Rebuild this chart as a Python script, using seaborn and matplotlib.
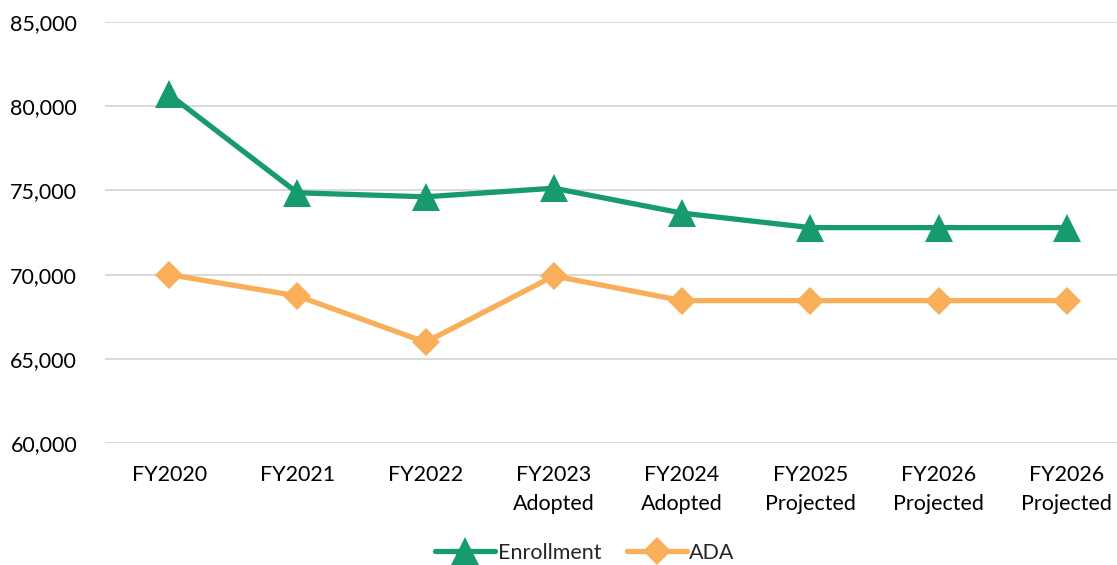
import seaborn as sns
import pandas as pd
import matplotlib.pyplot as plt
from matplotlib.ticker import FuncFormatter

# data
years = ["FY2020", "FY2021", "FY2022", "FY2023\nAdopted", "FY2024\nAdopted",
         "FY2025\nProjected", "FY2026\nProjected", "FY2026\nProjected"]
enrollment = [80700, 74860, 74620, 75130, 73650, 72790, 72790, 72790]
ada = [70000, 68735, 65985, 69920, 68455, 68455, 68455, 68455]

sns.set_style("white")
plt.rcParams['font.family'] = ['Lato', 'DejaVu Sans']

pos = list(range(len(years)))
df = pd.DataFrame({
    "pos": pos * 2,
    "value": enrollment + ada,
    "series": ["Enrollment"] * len(pos) + ["ADA"] * len(pos),
})

fig = plt.figure(figsize=(11.17, 5.65), dpi=100)
ax = fig.add_axes([105 / 1117, 1 - 443 / 565, 1026 / 1117, 421 / 565])

colors = {"Enrollment": "#179A6E", "ADA": "#F9AE5A"}
markers = {"Enrollment": "^", "ADA": "D"}
sns.lineplot(data=df, x="pos", y="value", hue="series", style="series",
             palette=colors, markers=markers, dashes=False, linewidth=3.8,
             markersize=20, markeredgewidth=0, ax=ax, legend=False)

# diamonds look bigger than triangles at the same size
for line in ax.lines:
    if line.get_marker() == "D":
        line.set_markersize(14)

ax.set_xlim(-0.5, len(years) - 0.5)
ax.set_ylim(60000, 85000)
ax.set_yticks(range(60000, 85001, 5000))
ax.yaxis.set_major_formatter(FuncFormatter(lambda v, p: f"{int(v):,}"))
ax.set_xticks(pos)
ax.set_xticklabels(years, linespacing=1.55)
ax.tick_params(axis="both", length=0, labelsize=15.5, colors="#000000")
ax.tick_params(axis="y", pad=20)
ax.tick_params(axis="x", pad=16)
ax.grid(axis="y", color="#D9D9D9", linewidth=1.4)
ax.set_axisbelow(True)
for s in ax.spines.values():
    s.set_visible(False)
ax.set_xlabel("")
ax.set_ylabel("")

handles = [
    plt.Line2D([], [], color=colors["Enrollment"], marker="^", markersize=20,
               linewidth=3.8, markeredgewidth=0),
    plt.Line2D([], [], color=colors["ADA"], marker="D", markersize=14,
               linewidth=3.8, markeredgewidth=0),
]
fig.legend(handles, ["Enrollment", "ADA"], loc="center",
           bbox_to_anchor=(585 / 1117, 1 - 553 / 565), ncol=2, frameon=False,
           fontsize=15.5, handlelength=2.8, handletextpad=0.1, columnspacing=1.2)

plt.savefig("out.png", dpi=100)
